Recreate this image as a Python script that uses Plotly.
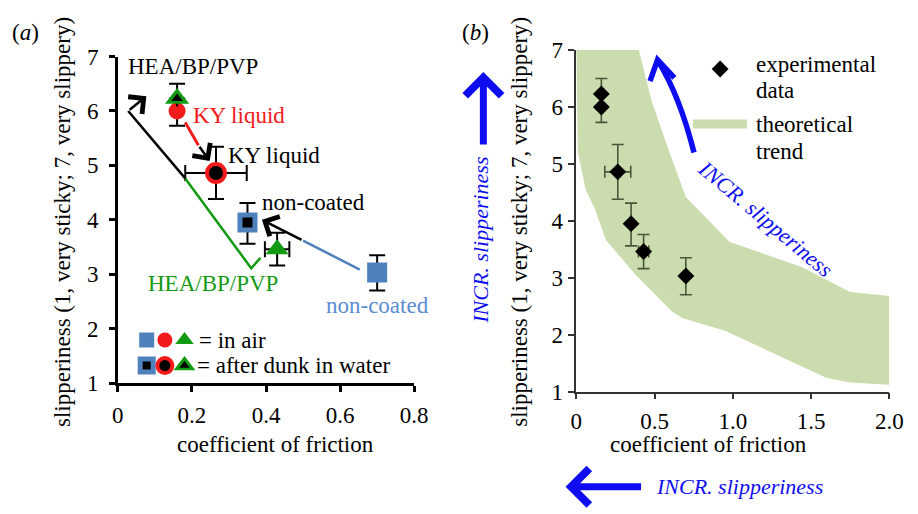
import plotly.graph_objects as go

W, H = 918, 514
FONT = "Liberation Serif, Times New Roman, Times, serif"
BLUE_M = "#4f81bd"
BLUE_T = "#5a8cd0"
RED = "#f21a1a"
GREEN = "#129a12"
BAND = "#cbdcae"
ARROW_BLUE = "#0d0df0"
ERR_B = "#4a5638"

# ---------------- data ----------------
materials = ["HEA/BP/PVP", "KY liquid", "non-coated"]
air_cof = [0.43, 0.16, 0.70]
air_cof_err = [0.033, 0.0, 0.0]
air_slip = [3.46, 6.00, 3.03]
air_slip_err_up = [0.30, 0.0, 0.32]
air_slip_err_dn = [0.30, 0.27, 0.33]
dunk_cof = [0.16, 0.265, 0.35]
dunk_cof_err = [0.0, 0.083, 0.0]
dunk_slip = [6.23, 4.86, 3.95]
dunk_slip_err_up = [0.27, 0.48, 0.36]
dunk_slip_err_dn = [0.0, 0.48, 0.39]

# theoretical trend band (panel b)
band_upper_cof = [0.0, 0.40, 0.48, 0.585, 0.70, 0.98, 1.44, 1.75, 2.0]
band_upper_slip = [7.0, 7.0, 6.12, 5.28, 4.42, 3.63, 3.19, 2.75, 2.68]
band_lower_cof = [0.0, 0.01, 0.06, 0.12, 0.19, 0.38, 0.61, 0.68, 0.95, 1.60, 1.75, 2.0]
band_lower_slip = [7.0, 5.2, 4.55, 4.2, 3.66, 3.05, 2.41, 2.29, 2.07, 1.24, 1.16, 1.12]

x_ticks_a = [0, 0.2, 0.4, 0.6, 0.8]
x_ticklabels_a = ["0", "0.2", "0.4", "0.6", "0.8"]
x_ticks_b = [0, 0.5, 1.0, 1.5, 2.0]
x_ticklabels_b = ["0", "0.5", "1.0", "1.5", "2.0"]
y_ticks = [1, 2, 3, 4, 5, 6, 7]

# key (legend) glyph positions in panel (a)
key_cof = [0.078, 0.127, 0.180]
key_slip_air = 1.79
key_slip_dunk = 1.32

# arrow paths in panel (a) (data coords)
hea_green_path = [(0.385, 3.30), (0.360, 3.11), (0.182, 4.76)]
hea_black_path = [(0.182, 4.76), (0.028, 6.0)]
hea_head = ((0.028, 6.0), (0.077, 6.27))
ky_red_path = [(0.182, 5.79), (0.2175, 5.37)]
ky_head = ((0.2175, 5.37), (0.248, 5.08))
nc_blue_path = [(0.653, 3.086), (0.50, 3.616)]
nc_head = ((0.50, 3.616), (0.389, 4.0))

# ---------------- figure ----------------
fig = go.Figure()


def err(up, dn, color, th, w):
    return dict(type="data", symmetric=False, array=up, arrayminus=dn,
                color=color, thickness=th, width=w, visible=True)


def errx(v, color, th, w):
    return dict(type="data", array=v, color=color, thickness=th, width=w, visible=True)


def pt(i, cond, symbol, color, size, line=None, errors=True, ax="x", ay="y"):
    if cond == "air":
        x, y = air_cof[i], air_slip[i]
        eu, ed, ex = air_slip_err_up[i], air_slip_err_dn[i], air_cof_err[i]
    else:
        x, y = dunk_cof[i], dunk_slip[i]
        eu, ed, ex = dunk_slip_err_up[i], dunk_slip_err_dn[i], dunk_cof_err[i]
    kw = {}
    if errors:
        kw["error_y"] = err([eu], [ed], "black", 2, 8)
        kw["error_x"] = errx([ex], "black", 2, 8)
    m = dict(symbol=symbol, color=color, size=size)
    m["line"] = line if line else dict(width=0)
    fig.add_trace(go.Scatter(x=[x], y=[y], mode="markers", marker=m,
                             xaxis=ax, yaxis=ay, hoverinfo="skip", **kw))


# panel (a) markers
pt(2, "air", "square", BLUE_M, 20)
pt(2, "dunk", "square", "black", 15, line=dict(color=BLUE_M, width=5))
pt(1, "air", "circle", RED, 17)
pt(1, "dunk", "circle", "black", 18, line=dict(color=RED, width=4))
pt(0, "air", "triangle-up", GREEN, 20)
pt(0, "dunk", "triangle-up", GREEN, 21)
pt(0, "dunk", "triangle-up", "black", 10, errors=False)


# key glyphs
def key(x, y, symbol, color, size, line=None):
    m = dict(symbol=symbol, color=color, size=size, line=line if line else dict(width=0))
    fig.add_trace(go.Scatter(x=[x], y=[y], mode="markers", marker=m,
                             xaxis="x", yaxis="y", hoverinfo="skip"))


key(key_cof[0], key_slip_air, "square", BLUE_M, 15)
key(key_cof[1], key_slip_air, "circle", RED, 15)
key(key_cof[2], key_slip_air, "triangle-up", GREEN, 16)
key(key_cof[0], key_slip_dunk, "square", "black", 13, dict(color=BLUE_M, width=5))
key(key_cof[1], key_slip_dunk, "circle", "black", 15, dict(color=RED, width=4))
key(key_cof[2], key_slip_dunk, "triangle-up", GREEN, 19)
key(key_cof[2], key_slip_dunk, "triangle-up", "black", 9)

# panel (b): theoretical band
bx = band_upper_cof + [2.0] + band_lower_cof[::-1]
by = band_upper_slip + [band_lower_slip[-1]] + band_lower_slip[::-1]
fig.add_trace(go.Scatter(x=bx, y=by, mode="lines", fill="toself", fillcolor=BAND,
                         line=dict(width=0, color=BAND), xaxis="x2", yaxis="y2",
                         hoverinfo="skip"))

exp_cof = dunk_cof + air_cof
exp_cof_err = dunk_cof_err + air_cof_err
exp_slip = dunk_slip + air_slip
exp_up = dunk_slip_err_up + air_slip_err_up
exp_dn = dunk_slip_err_dn + air_slip_err_dn
fig.add_trace(go.Scatter(x=exp_cof, y=exp_slip, mode="markers",
                         marker=dict(symbol="diamond", color="black", size=13),
                         error_y=err(exp_up, exp_dn, ERR_B, 1.6, 6),
                         error_x=errx(exp_cof_err, ERR_B, 1.6, 6),
                         xaxis="x2", yaxis="y2", hoverinfo="skip"))

# legend glyphs for (b)
fig.add_trace(go.Scatter(x=[0.919], y=[6.667], mode="markers",
                         marker=dict(symbol="diamond", color="black", size=13),
                         xaxis="x2", yaxis="y2", hoverinfo="skip"))
fig.add_trace(go.Scatter(x=[0.745, 1.09], y=[5.70, 5.70], mode="lines",
                         line=dict(color=BAND, width=9), xaxis="x2", yaxis="y2",
                         hoverinfo="skip"))

# ---------------- shapes ----------------
shapes = []


def poly(pts, color, width, xref="x", yref="y"):
    d = "M " + " L ".join(f"{x},{y}" for x, y in pts)
    shapes.append(dict(type="path", path=d, xref=xref, yref=yref,
                       line=dict(color=color, width=width)))


poly(hea_green_path, GREEN, 2.5)
poly(hea_black_path, "black", 2.5)
poly(ky_red_path, RED, 3)
poly(nc_blue_path, BLUE_M, 2.5)

# curved blue arrow in (b)
shapes.append(dict(type="path", path="M 0.752,5.20 Q 0.66,6.2 0.522,6.81",
                   xref="x2", yref="y2", line=dict(color=ARROW_BLUE, width=5.5)))
poly([(0.471, 6.455), (0.519, 6.83), (0.627, 6.51)], ARROW_BLUE, 5.5, "x2", "y2")

annotations = []


def P(x, y):
    return x / W, 1 - y / H


def txt(x, y, text, color="black", size=23, xanchor="left", angle=0):
    xx, yy = P(x, y)
    annotations.append(dict(x=xx, y=yy, xref="paper", yref="paper", text=text,
                            showarrow=False, xanchor=xanchor, yanchor="middle",
                            textangle=angle,
                            font=dict(family=FONT, size=size, color=color)))


def head(seg, color, width, size):
    (x0, y0), (x1, y1) = seg
    annotations.append(dict(x=x1, y=y1, ax=x0, ay=y0, xref="x", yref="y",
                            axref="x", ayref="y", text="", showarrow=True,
                            arrowhead=4, arrowsize=size, arrowwidth=width,
                            arrowcolor=color))


head(hea_head, "black", 2.5, 1.7)
head(ky_head, "black", 2.5, 1.7)
head(nc_head, "black", 2.5, 1.7)

# panel (a) labels
txt(123, 57, "HEA/BP/PVP")
txt(189, 109, "KY liquid", RED)
txt(225, 151, "KY liquid")
txt(260, 200, "non-coated")
txt(143, 285, "HEA/BP/PVP", GREEN)
txt(325, 308, "non-coated", BLUE_T)
txt(195, 345, "= in air")
txt(193, 372, "= after dunk in water")

# panel (b) legend labels
txt(765, 55, "experimental")
txt(765, 83, "data")
txt(765, 118, "theoretical")
txt(765, 147, "trend")

# INCR. slipperiness
txt(776, 217, "<i>INCR. slipperiness</i>", ARROW_BLUE, 22, "center", 40)
txt(485, 240, "<i>INCR. slipperiness</i>", ARROW_BLUE, 22, "center", -90)
txt(750, 499, "<i>INCR. slipperiness</i>", ARROW_BLUE, 22, "center")

# arrows outside axes (paper)
ux, uy = P(488, 63)
annotations.append(dict(x=ux, y=uy, xref="paper", yref="paper", ax=0, ay=74,
                        text="", showarrow=True, arrowhead=4, arrowsize=1.0,
                        arrowwidth=7, arrowcolor=ARROW_BLUE))
lx, ly = P(572, 499)
annotations.append(dict(x=lx, y=ly, xref="paper", yref="paper", ax=77, ay=0,
                        text="", showarrow=True, arrowhead=4, arrowsize=1.0,
                        arrowwidth=7, arrowcolor=ARROW_BLUE))

# panel letters and axis titles
txt(20, 22, "(<i>a</i>)", "black", 23, "center")
txt(480, 22, "(<i>b</i>)", "black", 23, "center")
txt(275, 455, "coefficient of friction", "black", 23, "center")
txt(718, 455, "coefficient of friction", "black", 23, "center")
txt(57, 221, "slipperiness (1, very sticky; 7, very slippery)", "black", 23, "center", -90)
txt(525, 221, "slipperiness (1, very sticky; 7, very slippery)", "black", 23, "center", -90)

tickfont = dict(family=FONT, size=23, color="black")
common = dict(showgrid=False, zeroline=False, showline=True, ticks="outside",
              tickfont=tickfont, mirror=False)

fig.update_layout(
    width=W, height=H, margin=dict(l=0, r=0, t=0, b=0),
    paper_bgcolor="white", plot_bgcolor="white", showlegend=False,
    font=dict(family=FONT, size=23, color="black"),
    xaxis=dict(domain=[114.3 / W, 417.3 / W], range=[0, 0.8], tickvals=x_ticks_a,
               ticktext=x_ticklabels_a, linecolor="black", linewidth=2.5,
               tickcolor="black", tickwidth=2.5, ticklen=6, anchor="y",
               ticklabelstandoff=4, **common),
    yaxis=dict(domain=[1 - 390 / H, 1 - 46.8 / H], range=[1, 7], tickvals=y_ticks,
               linecolor="black", linewidth=2.5, tickcolor="black", tickwidth=2.5,
               ticklen=6, anchor="x", ticklabelstandoff=6, **common),
    xaxis2=dict(domain=[583 / W, 903 / W], range=[0, 2], tickvals=x_ticks_b,
                ticktext=x_ticklabels_b, linecolor="#333333", linewidth=1.6,
                tickcolor="#333333", tickwidth=1.6, ticklen=6, anchor="y2",
                ticklabelstandoff=2, **common),
    yaxis2=dict(domain=[1 - 399 / H, 1 - 40 / H], range=[1, 7], tickvals=y_ticks,
                linecolor="#333333", linewidth=1.6, tickcolor="#333333", tickwidth=1.6,
                ticklen=6, anchor="x2", ticklabelstandoff=1, **common),
    shapes=shapes, annotations=annotations,
)

fig.write_html("out.html", config={"displayModeBar": False},
               post_script="document.body.style.margin='0';document.body.style.padding='0';")
